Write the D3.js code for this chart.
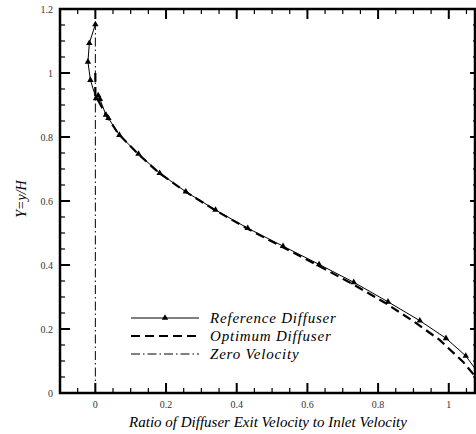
<!DOCTYPE html>
<html><head><meta charset="utf-8">
<script src="https://cdn.jsdelivr.net/npm/d3@7"></script>
<style>body{margin:0;background:#fff}svg{display:block}
text{font-family:"Liberation Serif","Times New Roman",Times,"DejaVu Serif",serif}</style>
</head><body>
<script>
// Data
const refX = [0.000, -0.017, -0.021, -0.014, 0.002, 0.008, 0.013, 0.030, 0.037, 0.068, 0.122, 0.182, 0.256, 0.340, 0.431, 0.531, 0.633, 0.731, 0.828, 0.918, 0.992, 1.048, 1.085];
const refY = [1.152, 1.093, 1.035, 0.978, 0.921, 0.930, 0.918, 0.869, 0.859, 0.806, 0.747, 0.687, 0.629, 0.572, 0.515, 0.459, 0.402, 0.346, 0.285, 0.226, 0.171, 0.116, 0.060];
const optX = [0.000, 0.000, 0.006, 0.030, 0.065, 0.120, 0.180, 0.254, 0.338, 0.428, 0.528, 0.628, 0.724, 0.818, 0.903, 0.974, 1.040, 1.080];
const optY = [1.000, 0.930, 0.918, 0.870, 0.810, 0.748, 0.688, 0.630, 0.572, 0.515, 0.457, 0.400, 0.343, 0.283, 0.222, 0.166, 0.098, 0.045];
const zeroX = [0, 0];
const zeroY = [0, 1.15];
const xMajor = [0, 0.2, 0.4, 0.6, 0.8, 1];
const xMajorLabels = ["0", "0.2", "0.4", "0.6", "0.8", "1"];
const yMajor = [0, 0.2, 0.4, 0.6, 0.8, 1, 1.2];
const yMajorLabels = ["0", "0.2", "0.4", "0.6", "0.8", "1", "1.2"];
const legendLabels = ["Reference Diffuser", "Optimum Diffuser", "Zero Velocity"];
const xTitle = "Ratio of Diffuser Exit Velocity to Inlet Velocity";
const yTitle = "Y=y/H";

const W = 476, H = 434;
const L = 60, R = 476, T = 9, B = 393;
const svg = d3.select("body").append("svg").attr("width", W).attr("height", H);
const x = d3.scaleLinear().domain([-0.1, 1.077]).range([L, R]);
const y = d3.scaleLinear().domain([0, 1.2]).range([B, T]);

// minor ticks
const xMinor = d3.range(-0.05, 1.076, 0.05).filter(v => !xMajor.some(m => Math.abs(m - v) < 1e-6));
const yMinor = d3.range(0.05, 1.2, 0.05).filter(v => !yMajor.some(m => Math.abs(m - v) < 1e-6));

const g = svg.append("g").attr("stroke", "#000");
// bottom
xMajor.forEach(v => g.append("line").attr("x1", x(v)).attr("x2", x(v)).attr("y1", B).attr("y2", B - 10).attr("stroke-width", 2));
xMinor.forEach(v => g.append("line").attr("x1", x(v)).attr("x2", x(v)).attr("y1", B).attr("y2", B - 5).attr("stroke-width", 1.2));
// top
xMajor.forEach(v => g.append("line").attr("x1", x(v)).attr("x2", x(v)).attr("y1", T).attr("y2", T + 10).attr("stroke-width", 2));
xMinor.forEach(v => g.append("line").attr("x1", x(v)).attr("x2", x(v)).attr("y1", T).attr("y2", T + 5).attr("stroke-width", 1.2));
// left
yMajor.forEach(v => g.append("line").attr("x1", L).attr("x2", L + 10).attr("y1", y(v)).attr("y2", y(v)).attr("stroke-width", 2));
yMinor.forEach(v => g.append("line").attr("x1", L).attr("x2", L + 5).attr("y1", y(v)).attr("y2", y(v)).attr("stroke-width", 1.2));
// right
yMajor.forEach(v => g.append("line").attr("x1", R).attr("x2", R - 6).attr("y1", y(v)).attr("y2", y(v)).attr("stroke-width", 2));
yMinor.forEach(v => g.append("line").attr("x1", R).attr("x2", R - 3).attr("y1", y(v)).attr("y2", y(v)).attr("stroke-width", 1.2));

// frame
svg.append("rect").attr("x", L).attr("y", T).attr("width", R - L - 1).attr("height", B - T)
  .attr("fill", "none").attr("stroke", "#000").attr("stroke-width", 2.5);

// tick labels
svg.append("g").selectAll("text").data(xMajor).join("text")
  .attr("x", d => x(d)).attr("y", 408).attr("text-anchor", "middle")
  .attr("font-size", 10).attr("fill", "#333")
  .text((d, i) => xMajorLabels[i]);
svg.append("g").selectAll("text").data(yMajor).join("text")
  .attr("x", 53).attr("y", d => y(d) + 3.5).attr("text-anchor", "end")
  .attr("font-size", 10).attr("fill", "#333")
  .text((d, i) => yMajorLabels[i]);

// titles
svg.append("text").attr("x", 268).attr("y", 427).attr("text-anchor", "middle")
  .attr("font-style", "italic").attr("font-size", 15)
  .text(xTitle);
svg.append("text").attr("transform", `translate(26,${(T + B) / 2 - 2}) rotate(-90)`).attr("text-anchor", "middle")
  .attr("font-style", "italic").attr("font-size", 14)
  .text(yTitle);

// clip
svg.append("clipPath").attr("id", "clip").append("rect").attr("x", L).attr("y", T).attr("width", R - L).attr("height", B - T);
const plot = svg.append("g").attr("clip-path", "url(#clip)");
const line = d3.line().x(d => x(d[0])).y(d => y(d[1]));

const zero = zeroX.map((v, i) => [v, zeroY[i]]);
plot.append("path").attr("d", line(zero)).attr("fill", "none").attr("stroke", "#000")
  .attr("stroke-width", 1).attr("stroke-dasharray", "9,3,1.5,3");

const opt = optX.map((v, i) => [v, optY[i]]);
plot.append("path").attr("d", line(opt)).attr("fill", "none").attr("stroke", "#000")
  .attr("stroke-width", 2.2).attr("stroke-dasharray", "9,5");

const ref = refX.map((v, i) => [v, refY[i]]);
plot.append("path").attr("d", line(ref)).attr("fill", "none").attr("stroke", "#000").attr("stroke-width", 1);
const tri = d3.symbol().type(d3.symbolTriangle).size(18);
plot.append("g").selectAll("path").data(ref.slice(0, ref.length - 1)).join("path")
  .attr("d", tri).attr("transform", d => `translate(${x(d[0])},${y(d[1])})`).attr("fill", "#000");

// legend
const lg = svg.append("g");
const ly = [318, 336, 354];
lg.append("line").attr("x1", 131).attr("x2", 199).attr("y1", ly[0]).attr("y2", ly[0]).attr("stroke", "#000").attr("stroke-width", 1);
lg.append("path").attr("d", tri).attr("transform", `translate(165,${ly[0]})`).attr("fill", "#000");
lg.append("line").attr("x1", 131).attr("x2", 199).attr("y1", ly[1]).attr("y2", ly[1]).attr("stroke", "#000").attr("stroke-width", 2.2).attr("stroke-dasharray", "9,5");
lg.append("line").attr("x1", 131).attr("x2", 199).attr("y1", ly[2]).attr("y2", ly[2]).attr("stroke", "#000").attr("stroke-width", 1).attr("stroke-dasharray", "9,3,1.5,3");
lg.selectAll("text").data(legendLabels).join("text")
  .attr("x", 210).attr("y", (d, i) => ly[i] + 5)
  .attr("font-style", "italic").attr("font-size", 15).attr("letter-spacing", 0.8)
  .text(d => d);
</script>
</body></html>
